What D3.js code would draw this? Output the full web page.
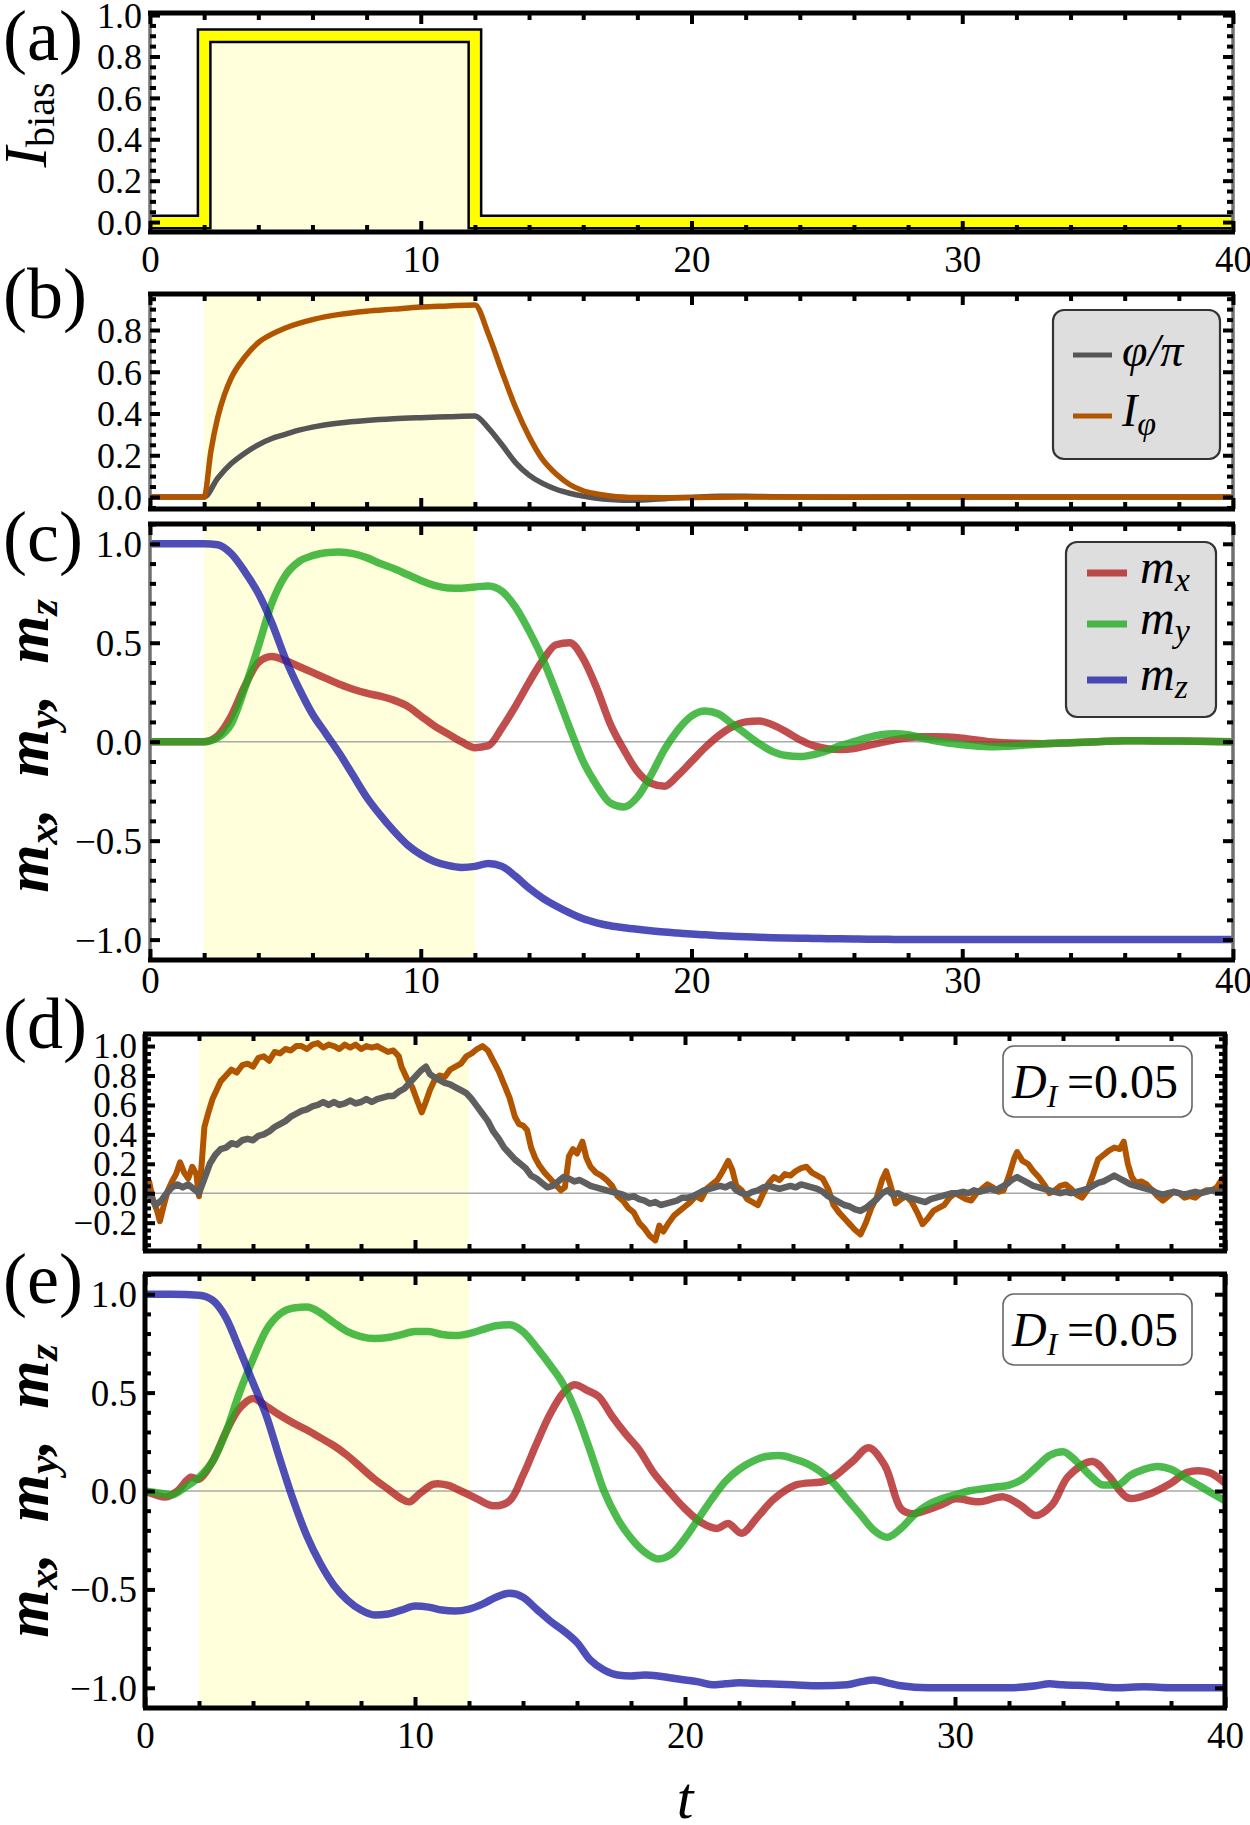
<!DOCTYPE html>
<html><head><meta charset="utf-8">
<script src="https://cdn.jsdelivr.net/npm/d3@7"></script>
<style>
body{margin:0;background:#fff}
svg{display:block}
</style>
</head><body>
<svg id="fig" width="1250" height="1825"></svg>
<script>
// ---------------- DATA ----------------
const xTickLabels = [0, 10, 20, 30, 40];
const aYTicks = [0, 0.2, 0.4, 0.6, 0.8, 1.0];
const bYTicks = [0, 0.2, 0.4, 0.6, 0.8];
const cYTicks = [-1, -0.5, 0, 0.5, 1];
const dYTicks = [-0.2, 0, 0.2, 0.4, 0.6, 0.8, 1.0];
const eYTicks = [-1, -0.5, 0, 0.5, 1];
const pulseWindow = [2, 12];

// (a) bias current pulse
const biasT = [0, 2, 2, 12, 12, 40];
const biasI = [0, 0, 0.9, 0.9, 0, 0];

// (b) deterministic phase and current
const bPhi = [[0,0],[1,0],[2,0],[2.5,0.09],[3,0.16],[3.5,0.21],[4,0.25],[4.5,0.28],[5,0.30],[5.5,0.32],[6,0.335],[7,0.355],[8,0.367],[9,0.375],[10,0.38],[11,0.384],[12,0.388],
  [12.5,0.33],[13,0.25],[13.5,0.165],[14,0.105],[14.5,0.065],[15,0.037],[15.5,0.018],[16,0.004],[16.5,-0.006],[17,-0.012],[17.5,-0.015],[18,-0.015],[18.5,-0.012],[19,-0.008],[20,-0.002],[21,0.003],[22,0.003],[23,0.001],[24,0],[26,-0.001],[30,0],[40,0]];
const bIphi = [[0,0],[1,0],[2,0],[2.25,0.22],[2.5,0.38],[2.75,0.49],[3,0.57],[3.5,0.67],[4,0.74],[4.5,0.78],[5,0.81],[6,0.85],[7,0.875],[8,0.89],[9,0.9],[10,0.91],[11,0.915],[12,0.92],
  [12.5,0.78],[13,0.6],[13.5,0.43],[14,0.29],[14.5,0.18],[15,0.11],[15.5,0.06],[16,0.03],[16.5,0.015],[17,0.005],[18,-0.003],[19,-0.004],[20,-0.002],[22,0],[30,0],[40,0]];

// (c) deterministic magnetization
const cT  = [0,1,2,2.5,3,3.5,4,4.5,5,5.5,6,6.5,7,7.5,8,8.5,9,9.5,10,10.5,11,11.5,12,12.5,13,13.5,14,14.5,15,15.5,16,16.5,17,17.5,18,18.5,19,19.5,20,20.5,21,21.5,22,22.5,23,23.5,24,24.5,25,25.5,26,26.5,27,27.5,28,28.5,29,30,31,32,33,34,35,36,37,38,40];
const cMx = [0,0,0,0.03,0.13,0.28,0.40,0.43,0.41,0.38,0.35,0.32,0.29,0.265,0.245,0.23,0.21,0.18,0.13,0.08,0.04,0.0,-0.03,-0.02,0.07,0.18,0.30,0.41,0.49,0.50,0.42,0.27,0.09,-0.04,-0.15,-0.21,-0.225,-0.17,-0.10,-0.03,0.03,0.075,0.10,0.105,0.085,0.05,0.01,-0.02,-0.035,-0.04,-0.035,-0.02,-0.005,0.01,0.02,0.025,0.025,0.018,0.0,-0.008,-0.01,-0.005,0,0.005,0.004,0.003,0];
const cMy = [0,0,0,0.02,0.09,0.27,0.48,0.70,0.84,0.91,0.94,0.955,0.958,0.95,0.93,0.90,0.875,0.845,0.815,0.79,0.777,0.775,0.782,0.787,0.76,0.68,0.56,0.42,0.25,0.07,-0.10,-0.22,-0.31,-0.33,-0.28,-0.17,-0.04,0.06,0.13,0.155,0.14,0.09,0.04,-0.01,-0.05,-0.07,-0.075,-0.065,-0.045,-0.02,0.0,0.02,0.035,0.04,0.035,0.02,0.005,-0.015,-0.025,-0.02,-0.01,-0.005,0,0.005,0.005,0.003,0];
const cMz = [1,1,1,0.995,0.95,0.86,0.75,0.60,0.42,0.27,0.14,0.04,-0.06,-0.17,-0.28,-0.37,-0.45,-0.52,-0.57,-0.605,-0.625,-0.635,-0.63,-0.615,-0.63,-0.68,-0.74,-0.79,-0.83,-0.865,-0.895,-0.915,-0.93,-0.94,-0.948,-0.955,-0.962,-0.967,-0.972,-0.976,-0.98,-0.983,-0.986,-0.988,-0.99,-0.992,-0.993,-0.994,-0.995,-0.996,-0.997,-0.998,-0.998,-0.999,-0.999,-1,-1,-1,-1,-1,-1,-1,-1,-1,-1,-1,-1];

// (d) noisy phase and current, D_I = 0.05
const dIphi = [[0,0.05],[0.15,0.08],[0.3,-0.05],[0.45,-0.12],[0.55,-0.19],[0.7,-0.08],[0.85,0.02],[1.0,0.08],[1.15,0.13],[1.3,0.21],[1.45,0.14],[1.6,0.1],[1.75,0.18],[1.9,0.13],[2.0,-0.02],[2.1,0.2],[2.2,0.45],[2.35,0.55],[2.5,0.64],[2.65,0.7],[2.8,0.76],[3.0,0.8],[3.2,0.84],[3.4,0.82],[3.6,0.87],[3.8,0.88],[4.0,0.86],[4.2,0.92],[4.4,0.93],[4.6,0.9],[4.8,0.96],[5.0,0.95],[5.2,0.98],[5.4,0.97],[5.6,1.0],[5.8,1.0],[6.0,0.98],[6.2,1.01],[6.4,1.02],[6.6,0.99],[6.8,1.01],[7.0,1.0],[7.2,0.98],[7.4,1.01],[7.6,0.99],[7.8,1.01],[8.0,0.98],[8.2,1.0],[8.4,0.99],[8.6,1.0],[8.8,0.98],[9.0,0.96],[9.2,0.97],[9.4,0.93],[9.5,0.86],[9.7,0.78],[9.9,0.72],[10.1,0.62],[10.25,0.55],[10.4,0.62],[10.55,0.7],[10.7,0.76],[10.9,0.8],[11.1,0.79],[11.3,0.84],[11.5,0.86],[11.7,0.88],[11.9,0.93],[12.1,0.95],[12.3,0.98],[12.5,1.0],[12.7,0.97],[12.9,0.9],[13.1,0.83],[13.3,0.74],[13.5,0.65],[13.7,0.52],[13.85,0.47],[14.0,0.46],[14.15,0.43],[14.3,0.31],[14.45,0.24],[14.6,0.19],[14.8,0.14],[15.0,0.1],[15.2,0.06],[15.4,0.02],[15.55,0.04],[15.7,0.25],[15.85,0.3],[16.0,0.27],[16.2,0.35],[16.35,0.24],[16.5,0.18],[16.7,0.14],[16.9,0.12],[17.1,0.09],[17.3,0.05],[17.5,-0.02],[17.7,-0.05],[17.9,-0.1],[18.1,-0.13],[18.3,-0.2],[18.5,-0.24],[18.7,-0.29],[18.9,-0.32],[19.05,-0.22],[19.2,-0.26],[19.4,-0.2],[19.6,-0.15],[19.8,-0.12],[20.0,-0.09],[20.2,-0.06],[20.4,-0.02],[20.6,-0.04],[20.8,0.03],[21.0,0.06],[21.2,0.09],[21.4,0.15],[21.6,0.22],[21.75,0.16],[21.9,0.05],[22.1,0.02],[22.3,-0.04],[22.5,-0.06],[22.7,-0.08],[22.9,0.0],[23.1,0.07],[23.3,0.11],[23.5,0.09],[23.7,0.13],[23.9,0.12],[24.1,0.15],[24.3,0.17],[24.5,0.18],[24.7,0.14],[24.9,0.12],[25.1,0.1],[25.3,0.03],[25.5,-0.08],[25.7,-0.13],[25.9,-0.17],[26.1,-0.21],[26.3,-0.25],[26.5,-0.28],[26.7,-0.2],[26.9,-0.1],[27.1,-0.03],[27.3,0.09],[27.45,0.15],[27.6,0.06],[27.8,-0.07],[28.0,-0.04],[28.2,-0.02],[28.4,-0.06],[28.6,-0.13],[28.8,-0.21],[29.0,-0.17],[29.2,-0.12],[29.4,-0.1],[29.6,-0.08],[29.8,-0.03],[30.0,0.0],[30.2,-0.02],[30.4,-0.04],[30.6,-0.05],[30.8,0.0],[31.0,0.03],[31.2,0.06],[31.4,0.04],[31.6,0.01],[31.8,0.02],[32.0,0.12],[32.2,0.24],[32.3,0.28],[32.5,0.22],[32.7,0.2],[32.9,0.15],[33.1,0.11],[33.3,0.06],[33.5,0.0],[33.7,0.02],[33.9,0.05],[34.1,0.06],[34.3,0.03],[34.5,-0.01],[34.7,-0.03],[34.9,0.02],[35.1,0.12],[35.3,0.23],[35.5,0.26],[35.7,0.29],[35.9,0.31],[36.1,0.3],[36.25,0.35],[36.4,0.2],[36.55,0.11],[36.7,0.07],[36.9,0.08],[37.1,0.06],[37.3,0.02],[37.5,-0.02],[37.7,-0.05],[37.9,-0.02],[38.1,0.01],[38.3,0.0],[38.5,-0.03],[38.7,-0.02],[38.9,-0.03],[39.1,0.0],[39.3,0.02],[39.5,0.02],[39.7,0.04],[39.9,0.1],[40,0.11]];
const dPhi = [[0,0.02],[0.2,-0.02],[0.4,-0.08],[0.6,-0.05],[0.8,0.0],[1.0,0.04],[1.2,0.06],[1.4,0.04],[1.6,0.06],[1.8,0.03],[2.0,0.0],[2.2,0.1],[2.4,0.2],[2.6,0.26],[2.8,0.3],[3.0,0.31],[3.2,0.34],[3.4,0.33],[3.6,0.36],[3.8,0.37],[4.0,0.36],[4.2,0.39],[4.4,0.4],[4.6,0.42],[4.8,0.45],[5.0,0.47],[5.2,0.49],[5.4,0.52],[5.6,0.54],[5.8,0.56],[6.0,0.57],[6.2,0.59],[6.4,0.6],[6.6,0.62],[6.8,0.6],[7.0,0.62],[7.2,0.6],[7.4,0.61],[7.6,0.63],[7.8,0.61],[8.0,0.62],[8.2,0.64],[8.4,0.62],[8.6,0.64],[8.8,0.65],[9.0,0.66],[9.2,0.66],[9.4,0.69],[9.6,0.71],[9.8,0.75],[10.0,0.79],[10.2,0.83],[10.4,0.86],[10.55,0.81],[10.7,0.79],[10.9,0.77],[11.1,0.75],[11.3,0.74],[11.5,0.72],[11.7,0.7],[11.9,0.68],[12.1,0.64],[12.3,0.59],[12.5,0.54],[12.7,0.49],[12.9,0.42],[13.1,0.37],[13.3,0.31],[13.5,0.27],[13.7,0.23],[13.9,0.2],[14.1,0.17],[14.3,0.12],[14.5,0.1],[14.7,0.07],[14.9,0.04],[15.1,0.05],[15.3,0.08],[15.5,0.11],[15.7,0.1],[15.9,0.08],[16.1,0.09],[16.3,0.07],[16.5,0.05],[16.7,0.04],[16.9,0.03],[17.1,0.02],[17.3,0.01],[17.5,0.0],[17.7,-0.01],[17.9,-0.03],[18.1,-0.02],[18.3,-0.04],[18.5,-0.05],[18.7,-0.07],[18.9,-0.06],[19.1,-0.08],[19.3,-0.07],[19.5,-0.06],[19.7,-0.05],[19.9,-0.03],[20.1,-0.03],[20.3,-0.02],[20.5,0.0],[20.7,0.02],[20.9,0.03],[21.1,0.04],[21.3,0.05],[21.5,0.04],[21.7,0.06],[21.9,0.02],[22.1,0.0],[22.3,-0.01],[22.5,0.01],[22.7,0.02],[22.9,0.04],[23.1,0.05],[23.3,0.04],[23.5,0.03],[23.7,0.04],[23.9,0.05],[24.1,0.04],[24.3,0.06],[24.5,0.05],[24.7,0.04],[24.9,0.03],[25.1,0.01],[25.3,-0.02],[25.5,-0.04],[25.7,-0.06],[25.9,-0.08],[26.1,-0.09],[26.3,-0.11],[26.5,-0.12],[26.7,-0.1],[26.9,-0.07],[27.1,-0.04],[27.3,0.0],[27.5,0.02],[27.7,-0.01],[27.9,0.0],[28.1,-0.02],[28.3,-0.03],[28.5,-0.04],[28.7,-0.05],[28.9,-0.06],[29.1,-0.04],[29.3,-0.03],[29.5,-0.02],[29.7,-0.01],[29.9,0.0],[30.1,0.0],[30.3,0.01],[30.5,0.0],[30.7,0.02],[30.9,0.01],[31.1,0.02],[31.3,0.03],[31.5,0.02],[31.7,0.04],[31.9,0.06],[32.1,0.09],[32.3,0.11],[32.5,0.09],[32.7,0.07],[32.9,0.05],[33.1,0.04],[33.3,0.03],[33.5,0.02],[33.7,0.01],[33.9,0.0],[34.1,0.01],[34.3,0.0],[34.5,0.01],[34.7,0.02],[34.9,0.03],[35.1,0.05],[35.3,0.07],[35.5,0.08],[35.7,0.1],[35.9,0.12],[36.1,0.1],[36.3,0.08],[36.5,0.06],[36.7,0.05],[36.9,0.04],[37.1,0.03],[37.3,0.02],[37.5,0.0],[37.7,-0.01],[37.9,0.0],[38.1,0.01],[38.3,0.0],[38.5,-0.01],[38.7,0.0],[38.9,0.01],[39.1,0.0],[39.3,0.01],[39.5,0.02],[39.7,0.01],[40,0.02]];

// (e) noisy magnetization, D_I = 0.05
const eMx = [[0,0],[0.4,-0.02],[0.8,-0.03],[1.2,0.0],[1.7,0.07],[2.0,0.06],[2.5,0.15],[3,0.3],[3.5,0.42],[4,0.47],[4.5,0.43],[5,0.385],[5.5,0.345],[6,0.31],[6.5,0.27],[7,0.23],[7.5,0.18],[8,0.12],[8.5,0.06],[9,0.01],[9.5,-0.04],[9.8,-0.055],[10.2,-0.01],[10.7,0.035],[11.2,0.03],[11.7,0.0],[12.3,-0.04],[12.9,-0.075],[13.5,-0.05],[14,0.08],[14.5,0.24],[15,0.39],[15.5,0.5],[15.9,0.54],[16.4,0.51],[16.8,0.48],[17.3,0.38],[17.8,0.29],[18.3,0.21],[18.8,0.1],[19.4,0.0],[20,-0.09],[20.6,-0.16],[21.2,-0.19],[21.6,-0.165],[22.1,-0.215],[22.7,-0.13],[23.3,-0.04],[24.1,0.03],[25.3,0.055],[26.2,0.15],[26.8,0.22],[27.4,0.13],[28.0,-0.09],[28.4,-0.115],[29.5,-0.07],[30,-0.04],[30.9,-0.055],[31.8,-0.03],[32.4,-0.07],[33,-0.125],[33.6,-0.07],[34.2,0.075],[35.1,0.15],[35.7,0.075],[36.4,-0.035],[37.1,-0.02],[38,0.04],[38.6,0.095],[39.4,0.095],[40,0.04]];
const eMyT = [0,0.5,1,1.5,2,2.5,3,3.5,4,4.5,5,5.5,6,6.5,7,7.5,8,8.5,9,9.5,10,10.5,11,11.5,12,12.5,13,13.5,14,14.5,15,15.5,16,16.5,17,17.5,18,18.5,19,19.5,20,20.5,21,21.5,22,22.5,23,23.5,24,24.5,25,25.5,26,26.5,27,27.5,28,28.5,29,29.5,30,30.5,31,31.5,32,32.5,33,33.5,34,34.5,35,35.5,36,36.5,37,37.5,38,38.5,39,39.5,40];
const eMy = [0,-0.01,-0.02,0.02,0.07,0.15,0.3,0.5,0.67,0.82,
  0.9,0.93,0.935,0.905,0.855,0.81,0.785,0.775,0.78,0.795,
  0.81,0.81,0.795,0.79,0.8,0.82,0.84,0.845,0.81,0.73,
  0.64,0.54,0.39,0.2,0.0,-0.14,-0.24,-0.31,-0.345,-0.32,
  -0.24,-0.14,-0.04,0.05,0.11,0.15,0.175,0.18,0.165,0.14,
  0.1,0.04,-0.04,-0.12,-0.2,-0.235,-0.19,-0.12,-0.07,-0.04,
  -0.02,0.0,0.01,0.02,0.03,0.06,0.12,0.18,0.2,0.15,
  0.08,0.03,0.03,0.08,0.11,0.125,0.11,0.07,0.03,-0.01,
  -0.05];
const eMzT = [0,1,2,2.5,3,3.5,4,4.5,5,5.5,6,6.5,7,7.5,8,8.5,9,9.5,10,10.5,11,11.5,12,12.5,13,13.5,14,14.5,15,15.5,16,16.5,17,17.5,18,18.5,19,19.5,20,20.5,21,21.5,22,23,24,25,26,26.5,27,27.5,28,29,30,31,32,33,33.5,34,35,36,37,38,40];
const eMz = [1,1,0.995,0.97,0.88,0.72,0.55,0.38,0.16,-0.05,-0.23,-0.37,-0.48,-0.555,-0.605,-0.63,-0.625,-0.605,-0.585,-0.59,-0.605,-0.61,-0.6,-0.575,-0.54,-0.52,-0.54,-0.6,-0.66,-0.71,-0.77,-0.86,-0.91,-0.935,-0.94,-0.935,-0.94,-0.95,-0.96,-0.97,-0.985,-0.98,-0.975,-0.98,-0.985,-0.99,-0.985,-0.97,-0.96,-0.975,-0.99,-1.0,-1.0,-1.0,-1.0,-0.99,-0.98,-0.985,-0.99,-1.0,-0.995,-1.0,-1.0];

// ---------------- STYLE ----------------
const FONT = '"Liberation Serif", serif';
(function(){
  const cx = document.createElement("canvas").getContext("2d");
  ["", "italic ", "bold ", "bold italic "].forEach(s=>{ cx.font = s + "40px " + FONT; cx.measureText("(a) 0.8 m x y z t I bias \u03C6/\u03C0 D =0.05"); });
})();
const SHADE = "#ffffdc";
const COL = {mx:"rgb(178,34,34)", my:"rgb(34,170,34)", mz:"rgb(34,34,170)", phi:"rgb(85,85,85)", iphi:"rgb(178,85,0)"};

const svg = d3.select("#fig").attr("font-family", FONT);
const xA = d3.scaleLinear().domain([0,40]).range([150,1233]);
const xD = d3.scaleLinear().domain([0,40]).range([145,1225]);

const panels = {
  a:{x:xA, y:d3.scaleLinear().domain([-0.048,1.01]).range([232,13]), yt:aYTicks, ymin:0.05, grayEdge:true, xlab:272, ylabFs:36},
  b:{x:xA, y:d3.scaleLinear().domain([-0.0575,0.9725]).range([509,294]), yt:bYTicks, ymin:0.05, grayEdge:true, xlab:null, ylabFs:36},
  c:{x:xA, y:d3.scaleLinear().domain([-1.103,1.1]).range([960,524]), yt:cYTicks, ymin:0.1, grayEdge:true, xlab:993, ylabFs:37},
  d:{x:xD, y:d3.scaleLinear().domain([-0.3925,1.082]).range([1251,1034]), yt:dYTicks, ymin:0.05, grayEdge:false, xlab:null, ylabFs:35},
  e:{x:xD, y:d3.scaleLinear().domain([-1.1027,1.1027]).range([1708,1274]), yt:eYTicks, ymin:0.1, grayEdge:false, xlab:1748, ylabFs:37}
};

function minorRange(lo, hi, step){
  const out=[]; const s=Math.ceil(lo/step-1e-9);
  for(let k=s; k*step<=hi+1e-9; k++) out.push(+(k*step).toFixed(4));
  return out;
}

const defs = svg.append("defs");
Object.entries(panels).forEach(([key,p])=>{
  const [L,R]=p.x.range(); const [B,T]=p.y.range();
  p.L=L;p.R=R;p.B=B;p.T=T;
  p.g = svg.append("g").attr("class","panel-"+key);
  p.clipId = "clip-"+key;
  defs.append("clipPath").attr("id",p.clipId).append("rect")
    .attr("x",L).attr("y",T).attr("width",R-L).attr("height",B-T);
  p.plot = p.g.append("g").attr("clip-path",`url(#${p.clipId})`);
});

["b","c","d","e"].forEach(k=>{
  const p=panels[k];
  p.plot.append("rect").attr("x",p.x(pulseWindow[0])).attr("width",p.x(pulseWindow[1])-p.x(pulseWindow[0]))
    .attr("y",p.T).attr("height",p.B-p.T).attr("fill",SHADE);
});
["c","d","e"].forEach(k=>{
  const p=panels[k];
  p.plot.append("line").attr("x1",p.L).attr("x2",p.R).attr("y1",p.y(0)).attr("y2",p.y(0))
    .attr("stroke","#a8a8a8").attr("stroke-width",1.5);
});

// ---- (a)
{
  const p=panels.a;
  const pts = biasT.map((t,i)=>[t,biasI[i]]);
  const area = d3.area().x(d=>p.x(d[0])).y0(p.B).y1(d=>p.y(d[1]));
  p.plot.append("path").attr("d",area(pts)).attr("fill",SHADE);
  const line = d3.line().x(d=>p.x(d[0])).y(d=>p.y(d[1]));
  p.plot.append("path").attr("d",line(pts)).attr("fill","none").attr("stroke","#000").attr("stroke-width",15).attr("stroke-linejoin","miter");
  p.plot.append("path").attr("d",line(pts)).attr("fill","none").attr("stroke","#ffff00").attr("stroke-width",10).attr("stroke-linejoin","miter");
}
// ---- (b)
{
  const p=panels.b;
  const line = d3.line().x(d=>p.x(d[0])).y(d=>p.y(d[1])).curve(d3.curveMonotoneX);
  p.plot.append("path").attr("d",line(bPhi)).attr("fill","none").attr("stroke",COL.phi).attr("stroke-width",5.5);
  p.plot.append("path").attr("d",line(bIphi)).attr("fill","none").attr("stroke",COL.iphi).attr("stroke-width",5.5);
}
// ---- (c)
{
  const p=panels.c;
  const line = d3.line().x(d=>p.x(d[0])).y(d=>p.y(d[1])).curve(d3.curveMonotoneX);
  [[cMx,COL.mx],[cMy,COL.my],[cMz,COL.mz]].forEach(([arr,c])=>{
    p.plot.append("path").attr("d",line(cT.map((t,i)=>[t,arr[i]]))).attr("fill","none")
      .attr("stroke",c).attr("stroke-opacity",0.8).attr("stroke-width",7.5);
  });
}
// ---- (d)
{
  const p=panels.d;
  const line = d3.line().x(d=>p.x(d[0])).y(d=>p.y(d[1]));
  p.plot.append("path").attr("d",line(dIphi)).attr("fill","none").attr("stroke",COL.iphi).attr("stroke-width",6).attr("stroke-linejoin","round");
  p.plot.append("path").attr("d",line(dPhi)).attr("fill","none").attr("stroke","rgb(95,95,95)").attr("stroke-width",6.5).attr("stroke-linejoin","round");
}
// ---- (e)
{
  const p=panels.e;
  const lineS = d3.line().x(d=>p.x(d[0])).y(d=>p.y(d[1])).curve(d3.curveMonotoneX);
  const lineL = d3.line().x(d=>p.x(d[0])).y(d=>p.y(d[1])).curve(d3.curveCatmullRom.alpha(0.5));
  p.plot.append("path").attr("d",lineL(eMx)).attr("fill","none").attr("stroke",COL.mx).attr("stroke-opacity",0.8).attr("stroke-width",7.5);
  p.plot.append("path").attr("d",lineS(eMyT.map((t,i)=>[t,eMy[i]]))).attr("fill","none").attr("stroke",COL.my).attr("stroke-opacity",0.8).attr("stroke-width",7.5);
  p.plot.append("path").attr("d",lineS(eMzT.map((t,i)=>[t,eMz[i]]))).attr("fill","none").attr("stroke",COL.mz).attr("stroke-opacity",0.8).attr("stroke-width",7.5);
}

// ---- frames, ticks, labels
Object.entries(panels).forEach(([key,p])=>{
  const g=p.g.append("g");
  const xMinor = minorRange(0,40,2).filter(v=>v%10!==0);
  const yDom=p.y.domain();
  const yMinor = minorRange(yDom[0],yDom[1],p.ymin).filter(v=>!p.yt.some(m=>Math.abs(m-v)<1e-6));
  const styleAxis = sel=>{ sel.select(".domain").remove(); sel.selectAll("line").attr("stroke","#000").attr("stroke-width",4); };
  const edgeCol = p.grayEdge ? "#707070" : "#000";
  const edgeW = p.grayEdge ? 3.5 : 5;
  g.append("line").attr("x1",p.L).attr("x2",p.L).attr("y1",p.T).attr("y2",p.B).attr("stroke",edgeCol).attr("stroke-width",edgeW);
  g.append("line").attr("x1",p.R).attr("x2",p.R).attr("y1",p.T).attr("y2",p.B).attr("stroke",edgeCol).attr("stroke-width",edgeW);
  g.append("g").attr("transform",`translate(0,${p.B})`).call(d3.axisBottom(p.x).tickValues(xMinor).tickSize(-7).tickFormat("")).call(styleAxis);
  g.append("g").attr("transform",`translate(0,${p.B})`).call(d3.axisBottom(p.x).tickValues(xTickLabels).tickSize(-11).tickFormat("")).call(styleAxis);
  g.append("g").attr("transform",`translate(0,${p.T})`).call(d3.axisTop(p.x).tickValues(xMinor).tickSize(-7).tickFormat("")).call(styleAxis);
  g.append("g").attr("transform",`translate(0,${p.T})`).call(d3.axisTop(p.x).tickValues(xTickLabels).tickSize(-11).tickFormat("")).call(styleAxis);
  g.append("g").attr("transform",`translate(${p.L},0)`).call(d3.axisLeft(p.y).tickValues(yMinor).tickSize(-6).tickFormat("")).call(styleAxis);
  g.append("g").attr("transform",`translate(${p.L},0)`).call(d3.axisLeft(p.y).tickValues(p.yt).tickSize(-10).tickFormat("")).call(styleAxis);
  g.append("g").attr("transform",`translate(${p.R},0)`).call(d3.axisRight(p.y).tickValues(yMinor).tickSize(-6).tickFormat("")).call(styleAxis);
  g.append("g").attr("transform",`translate(${p.R},0)`).call(d3.axisRight(p.y).tickValues(p.yt).tickSize(-10).tickFormat("")).call(styleAxis);
  g.append("line").attr("x1",p.L-2).attr("x2",p.R+2).attr("y1",p.T).attr("y2",p.T).attr("stroke","#000").attr("stroke-width",5);
  g.append("line").attr("x1",p.L-2).attr("x2",p.R+2).attr("y1",p.B).attr("y2",p.B).attr("stroke","#000").attr("stroke-width",5);
  const yl = g.append("g").attr("transform",`translate(${p.L},0)`)
    .call(d3.axisLeft(p.y).tickValues(p.yt).tickSize(0).tickPadding(8).tickFormat(d3.format(".1f")));
  yl.attr("font-family",FONT).attr("font-size",p.ylabFs);
  yl.select(".domain").remove();
  yl.selectAll("text").attr("font-size",p.ylabFs).attr("font-family",FONT).attr("fill","#000").attr("dy","0.34em");
  if(p.xlab!==null){
    const xl = g.append("g").attr("transform",`translate(0,${p.B})`)
      .call(d3.axisBottom(p.x).tickValues(xTickLabels).tickSize(0).tickFormat(d3.format("d")));
    xl.attr("font-family",FONT).attr("font-size",37);
    xl.select(".domain").remove();
    xl.selectAll("text").attr("y",p.xlab-p.B).attr("dy",0).attr("font-size",37).attr("font-family",FONT).attr("fill","#000");
  }
});

// ---- panel letters
const letters = [["(a)",60],["(b)",318],["(c)",561],["(d)",1048],["(e)",1303]];
letters.forEach(([s,y])=>svg.append("text").attr("x",3).attr("y",y).attr("font-size",72).attr("font-family",FONT).text(s));

// ---- axis titles
{
  const t = svg.append("text").attr("transform","translate(46,125) rotate(-90)").attr("text-anchor","middle").attr("font-family",FONT);
  t.append("tspan").attr("font-style","italic").attr("font-size",62).text("I");
  t.append("tspan").attr("font-size",40).attr("dy",8).text("bias");
}
function mTitle(cx,cy){
  const t = svg.append("text").attr("transform",`translate(${cx},${cy}) rotate(-90)`).attr("text-anchor","middle")
    .attr("font-weight","bold").attr("font-style","italic").attr("font-family",FONT);
  ["x","y","z"].forEach((s,i)=>{
    t.append("tspan").attr("font-size",62).attr("dy",i===0?0:-9).text((i===0?"":",\u2002")+"m");
    t.append("tspan").attr("font-size",42).attr("dy",9).text(s);
  });
}
mTitle(48,746);
mTitle(48,1491);
svg.append("text").attr("x",685).attr("y",1818).attr("text-anchor","middle").attr("font-style","italic").attr("font-size",60).attr("font-family",FONT).text("t");

// ---- legends
function legendBox(x,y,w,h,fill,stroke,sw){
  svg.append("rect").attr("x",x).attr("y",y).attr("width",w).attr("height",h).attr("rx",11).attr("ry",11)
    .attr("fill",fill).attr("stroke",stroke).attr("stroke-width",sw);
}
legendBox(1053,310,167,149,"#dedede","#333",2.2);
[[355,COL.phi,"phi"],[416,COL.iphi,"iphi"]].forEach(([y,c,k])=>{
  svg.append("line").attr("x1",1073).attr("x2",1112).attr("y1",y).attr("y2",y).attr("stroke",c).attr("stroke-width",5);
  const t=svg.append("text").attr("x",1122).attr("y",y+(k==="phi"?11:10)).attr("font-style","italic").attr("font-size",46).attr("font-family",FONT);
  if(k==="phi"){ t.text("\u03C6/\u03C0"); }
  else { t.append("tspan").text("I"); t.append("tspan").attr("font-size",34).attr("dy",9).text("\u03C6"); }
});
legendBox(1066,542,150,175,"#dedede","#333",2.2);
[[573,COL.mx,"x"],[624,COL.my,"y"],[680,COL.mz,"z"]].forEach(([y,c,s])=>{
  svg.append("line").attr("x1",1087).attr("x2",1127).attr("y1",y).attr("y2",y).attr("stroke",c).attr("stroke-opacity",0.8).attr("stroke-width",7);
  const t=svg.append("text").attr("x",1140).attr("y",y+10).attr("font-style","italic").attr("font-size",48).attr("font-family",FONT);
  t.append("tspan").text("m"); t.append("tspan").attr("font-size",34).attr("dy",8).text(s);
});
[[1046,1098],[1294,1346]].forEach(([by,ty])=>{
  legendBox(1003,by,189,71,"#fff","#666",1.6);
  const t=svg.append("text").attr("x",1012).attr("y",ty).attr("font-size",48).attr("font-family",FONT);
  t.append("tspan").attr("font-style","italic").text("D");
  t.append("tspan").attr("font-style","italic").attr("font-size",32).attr("dy",9).text("I");
  t.append("tspan").attr("dy",-9).text("\u2009=0.05");
});
</script>
</body></html>
